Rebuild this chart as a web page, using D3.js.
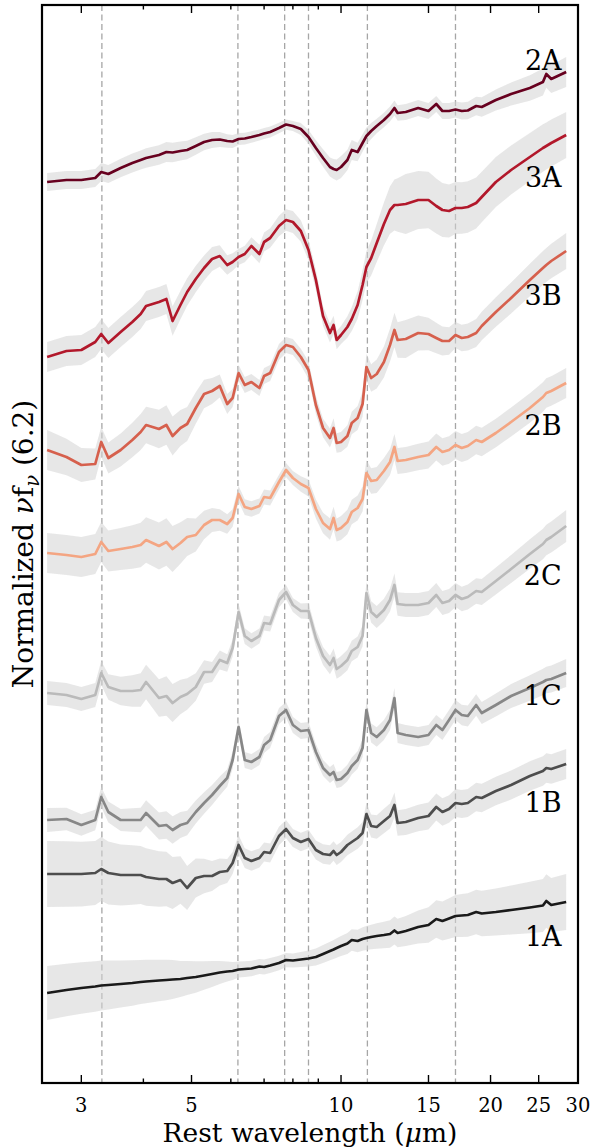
<!DOCTYPE html>
<html>
<head>
<meta charset="utf-8">
<script src="https://cdn.jsdelivr.net/npm/d3@7"></script>
<style>
  body { margin: 0; background: #fff; }
  text { font-family: "DejaVu Serif", serif; fill: #000; }
</style>
</head>
<body>
<script>
// 波长网格 (µm)，所有光谱共用
const wavelength = [2.56, 2.8, 3.0, 3.2, 3.29, 3.4, 3.6, 3.8, 3.95, 4.05,
    4.3, 4.45, 4.58, 4.75, 4.9, 5.1, 5.3, 5.5, 5.7, 5.9,
    6.05, 6.22, 6.4, 6.6, 6.85, 7.0, 7.2, 7.5, 7.75, 8.0,
    8.3, 8.6, 8.9, 9.2, 9.5, 9.66, 9.8, 10.0, 10.3, 10.51,
    10.8, 11.05, 11.25, 11.5, 11.8, 12.2, 12.55, 12.81, 13.0, 13.5,
    14.3, 15.0, 15.55, 16.0, 16.5, 17.0, 17.5, 18.0, 18.71, 19.2,
    20.5, 22, 24, 25.5, 25.9, 26.5, 28.4];

// 归一化 νfν（已加上各自的竖直偏移）
const flux_2A = [9.01, 9.03, 9.03, 9.05, 9.11, 9.09, 9.15, 9.20, 9.23, 9.25,
    9.28, 9.31, 9.305, 9.32, 9.33, 9.37, 9.41, 9.43, 9.435, 9.42,
    9.415, 9.44, 9.445, 9.46, 9.48, 9.495, 9.51, 9.55, 9.585, 9.57,
    9.54, 9.46, 9.35, 9.25, 9.16, 9.14, 9.13, 9.16, 9.23, 9.33,
    9.31, 9.40, 9.47, 9.52, 9.57, 9.63, 9.69, 9.75, 9.70, 9.71,
    9.75, 9.72, 9.79, 9.72, 9.72, 9.735, 9.72, 9.725, 9.77, 9.76,
    9.83, 9.89, 9.95, 10.01, 10.09, 10.04, 10.11];
const flux_3A = [7.26, 7.32, 7.33, 7.41, 7.49, 7.40, 7.51, 7.61, 7.69, 7.77,
    7.81, 7.84, 7.62, 7.78, 7.91, 8.04, 8.15, 8.24, 8.27, 8.18,
    8.21, 8.26, 8.29, 8.37, 8.29, 8.41, 8.45, 8.57, 8.63, 8.61,
    8.52, 8.33, 8.03, 7.67, 7.50, 7.58, 7.43, 7.48, 7.56, 7.64,
    7.78, 7.98, 8.16, 8.25, 8.40, 8.59, 8.73, 8.78, 8.78, 8.79,
    8.83, 8.83, 8.77, 8.73, 8.72, 8.75, 8.75, 8.76, 8.80, 8.86,
    9.01, 9.13, 9.26, 9.35, 9.37, 9.40, 9.48];
const flux_3B = [6.33, 6.26, 6.18, 6.19, 6.41, 6.25, 6.33, 6.43, 6.51, 6.58,
    6.54, 6.58, 6.47, 6.55, 6.59, 6.75, 6.89, 6.92, 6.97, 6.79,
    6.85, 7.10, 6.98, 7.01, 6.95, 7.07, 7.10, 7.31, 7.38, 7.36,
    7.26, 7.13, 6.78, 6.55, 6.45, 6.55, 6.40, 6.41, 6.47, 6.60,
    6.65, 6.79, 7.16, 7.05, 7.09, 7.21, 7.38, 7.53, 7.43, 7.44,
    7.50, 7.49, 7.45, 7.42, 7.42, 7.48, 7.45, 7.46, 7.50, 7.57,
    7.71, 7.85, 8.03, 8.15, 8.18, 8.22, 8.32];
const flux_2B = [5.30, 5.28, 5.26, 5.29, 5.41, 5.32, 5.34, 5.36, 5.38, 5.43,
    5.37, 5.41, 5.34, 5.40, 5.46, 5.48, 5.58, 5.63, 5.63, 5.59,
    5.65, 5.89, 5.76, 5.74, 5.77, 5.86, 5.85, 6.01, 6.13, 6.05,
    5.99, 5.95, 5.74, 5.60, 5.54, 5.65, 5.53, 5.55, 5.61, 5.71,
    5.75, 5.84, 6.10, 6.02, 6.03, 6.12, 6.21, 6.36, 6.22, 6.23,
    6.26, 6.28, 6.36, 6.31, 6.33, 6.38, 6.35, 6.37, 6.43, 6.41,
    6.50, 6.61, 6.75, 6.86, 6.90, 6.92, 7.00];
const flux_2C = [3.90, 3.88, 3.84, 3.88, 4.10, 3.96, 3.92, 3.92, 3.93, 4.01,
    3.85, 3.87, 3.80, 3.86, 3.89, 3.96, 4.11, 4.11, 4.23, 4.20,
    4.35, 4.71, 4.47, 4.42, 4.47, 4.60, 4.59, 4.83, 4.91, 4.78,
    4.72, 4.72, 4.45, 4.27, 4.18, 4.25, 4.14, 4.17, 4.23, 4.32,
    4.36, 4.47, 4.90, 4.71, 4.66, 4.73, 4.83, 4.98, 4.79, 4.78,
    4.78, 4.80, 4.88, 4.80, 4.82, 4.88, 4.84, 4.86, 4.92, 4.91,
    5.02, 5.14, 5.29, 5.39, 5.43, 5.46, 5.57];
const flux_1C = [2.63, 2.64, 2.58, 2.63, 2.86, 2.71, 2.63, 2.63, 2.63, 2.70,
    2.57, 2.58, 2.53, 2.58, 2.60, 2.71, 2.80, 2.88, 2.97, 3.05,
    3.23, 3.56, 3.23, 3.21, 3.26, 3.38, 3.43, 3.67, 3.73, 3.58,
    3.52, 3.53, 3.31, 3.15, 3.08, 3.11, 3.03, 3.04, 3.10, 3.17,
    3.23, 3.35, 3.73, 3.50, 3.46, 3.53, 3.63, 3.85, 3.50, 3.48,
    3.46, 3.48, 3.58, 3.53, 3.63, 3.73, 3.68, 3.67, 3.78, 3.70,
    3.78, 3.87, 3.95, 4.01, 4.03, 4.04, 4.10];
const flux_1B = [2.09, 2.09, 2.09, 2.10, 2.14, 2.10, 2.08, 2.08, 2.08, 2.06,
    2.04, 2.04, 2.00, 2.03, 1.95, 2.05, 2.07, 2.07, 2.11, 2.12,
    2.20, 2.38, 2.25, 2.22, 2.25, 2.31, 2.30, 2.47, 2.54, 2.45,
    2.41, 2.44, 2.33, 2.29, 2.28, 2.32, 2.28, 2.31, 2.38, 2.41,
    2.45, 2.50, 2.69, 2.57, 2.56, 2.62, 2.67, 2.78, 2.60, 2.61,
    2.65, 2.67, 2.76, 2.71, 2.74, 2.80, 2.79, 2.80, 2.86, 2.85,
    2.92, 2.98, 3.07, 3.12, 3.15, 3.14, 3.19];
const flux_1A = [0.90, 0.93, 0.95, 0.965, 0.975, 0.98, 0.99, 1.00, 1.01, 1.015,
    1.025, 1.03, 1.035, 1.04, 1.05, 1.06, 1.075, 1.09, 1.105, 1.115,
    1.12, 1.135, 1.14, 1.145, 1.165, 1.16, 1.175, 1.20, 1.23, 1.225,
    1.235, 1.245, 1.26, 1.29, 1.32, 1.335, 1.35, 1.37, 1.395, 1.43,
    1.42, 1.44, 1.45, 1.46, 1.47, 1.48, 1.49, 1.525, 1.50, 1.52,
    1.56, 1.58, 1.64, 1.62, 1.645, 1.67, 1.675, 1.68, 1.71, 1.695,
    1.71, 1.73, 1.755, 1.775, 1.82, 1.78, 1.81];

// 灰色误差带半宽，在这些波长节点处读取
const bandKnots = [2.56, 3.3, 4.5, 5.5, 6.2, 8.0, 10.0, 12.0, 13.5, 17.0, 28.4];
const band_2A = [0.09, 0.09, 0.10, 0.08, 0.06, 0.05, 0.11, 0.07, 0.08, 0.08, 0.15];
const band_3A = [0.15, 0.15, 0.15, 0.12, 0.08, 0.11, 0.09, 0.20, 0.30, 0.26, 0.23];
const band_3B = [0.20, 0.15, 0.20, 0.13, 0.08, 0.08, 0.10, 0.15, 0.19, 0.13, 0.18];
const band_2B = [0.20, 0.20, 0.24, 0.12, 0.08, 0.07, 0.12, 0.13, 0.13, 0.14, 0.15];
const band_2C = [0.12, 0.12, 0.20, 0.10, 0.08, 0.07, 0.10, 0.11, 0.12, 0.12, 0.16];
const band_1C = [0.12, 0.10, 0.14, 0.10, 0.08, 0.08, 0.08, 0.10, 0.10, 0.10, 0.14];
const band_1B = [0.33, 0.32, 0.27, 0.15, 0.10, 0.09, 0.10, 0.12, 0.13, 0.14, 0.15];
const band_1A = [0.27, 0.25, 0.20, 0.13, 0.08, 0.07, 0.10, 0.13, 0.15, 0.21, 0.28];

const names = ['2A', '3A', '3B', '2B', '2C', '1C', '1B', '1A'];
const fluxes = [flux_2A, flux_3A, flux_3B, flux_2B, flux_2C, flux_1C, flux_1B, flux_1A];
const bands = [band_2A, band_3A, band_3B, band_2B, band_2C, band_1C, band_1B, band_1A];
const colors = ['#67001f', '#b2182b', '#d6604d', '#f4a582', '#bababa', '#878787', '#4d4d4d', '#1a1a1a'];
// 标签位置（数据坐标）
const labelWave = 27.8;
const labelLevel = [10.13, 8.96, 7.78, 6.48, 4.98, 3.78, 2.71, 1.37];

// PAH 特征竖线
const featureLines = [3.3, 6.2, 7.7, 8.6, 11.3, 17.0];
const majorTicks = [3, 5, 10, 15, 20, 25, 30];
const minorTicks = [4, 6, 7, 8, 9];

const width = 594;
const height = 1147;
const margin = {left: 42, right: 16, top: 5, bottom: 64};

const x = d3.scaleLog().domain([2.5, 30]).range([margin.left, width - margin.right]);
const y = d3.scaleLinear().domain([0, 10.78]).range([height - margin.bottom, margin.top]);

const svg = d3.select('body').append('svg')
    .attr('width', width)
    .attr('height', height);

svg.append('rect').attr('width', width).attr('height', height).attr('fill', 'white');

// 竖直虚线
svg.append('g')
    .selectAll('line')
    .data(featureLines).enter()
    .append('line')
    .attr('x1', d => x(d)).attr('x2', d => x(d))
    .attr('y1', y.range()[1]).attr('y2', y.range()[0])
    .attr('stroke', '#a6a6a6')
    .attr('stroke-width', 1.3)
    .attr('stroke-dasharray', '6,3.5');

// 组装每条光谱
const spectra = names.map((name, i) => {
    const hw = d3.scaleLog().domain(bandKnots).range(bands[i]).clamp(true);
    return {
        name: name,
        color: colors[i],
        points: wavelength.map((w, j) => ({w: w, v: fluxes[i][j], hw: hw(w)}))
    };
});

const area = d3.area()
    .x(d => x(d.w))
    .y0(d => y(d.v - d.hw))
    .y1(d => y(d.v + d.hw));

const line = d3.line()
    .x(d => x(d.w))
    .y(d => y(d.v));

// 误差带
svg.append('g')
    .selectAll('path')
    .data(spectra).enter()
    .append('path')
    .attr('d', d => area(d.points))
    .attr('fill', '#d3d3d3')
    .attr('fill-opacity', 0.55);

// 光谱曲线
svg.append('g')
    .selectAll('path')
    .data(spectra).enter()
    .append('path')
    .attr('d', d => line(d.points))
    .attr('fill', 'none')
    .attr('stroke', d => d.color)
    .attr('stroke-width', 2.7)
    .attr('stroke-linejoin', 'round');

// 光谱标签
svg.append('g')
    .selectAll('text')
    .data(spectra).enter()
    .append('text')
    .attr('x', x(labelWave))
    .attr('y', (d, i) => y(labelLevel[i]))
    .attr('text-anchor', 'end')
    .attr('font-size', 27)
    .text(d => d.name);

// 坐标框
const [x0, x1] = x.range();
const [yb, yt] = y.range();
svg.append('rect')
    .attr('x', x0).attr('y', yt)
    .attr('width', x1 - x0).attr('height', yb - yt)
    .attr('fill', 'none')
    .attr('stroke', 'black')
    .attr('stroke-width', 2.2);

// 刻度（向内，上下都有）
const tickG = svg.append('g').attr('stroke', 'black').attr('stroke-width', 1.4);
[[majorTicks, 8], [minorTicks, 4.5]].forEach(([ticks, len]) => {
    tickG.selectAll(null).data(ticks).enter().append('line')
        .attr('x1', d => x(d)).attr('x2', d => x(d))
        .attr('y1', yb).attr('y2', yb - len);
    tickG.selectAll(null).data(ticks).enter().append('line')
        .attr('x1', d => x(d)).attr('x2', d => x(d))
        .attr('y1', yt).attr('y2', yt + len);
});

svg.append('g')
    .selectAll('text')
    .data(majorTicks).enter()
    .append('text')
    .attr('x', d => x(d))
    .attr('y', yb + 29)
    .attr('text-anchor', 'middle')
    .attr('font-size', 19.5)
    .text(d => d);

// 轴标题
const xl = svg.append('text')
    .attr('x', (x0 + x1) / 2)
    .attr('y', height - 5)
    .attr('text-anchor', 'middle')
    .attr('font-size', 26.5);
xl.append('tspan').text('Rest wavelength (');
xl.append('tspan').attr('font-style', 'italic').text('μ');
xl.append('tspan').text('m)');

const yl = svg.append('text')
    .attr('transform', `translate(33,${(yb + yt) / 2}) rotate(-90)`)
    .attr('text-anchor', 'middle')
    .attr('font-size', 28);
yl.append('tspan').text('Normalized ');
yl.append('tspan').attr('font-style', 'italic').text('ν');
yl.append('tspan').text('f');
yl.append('tspan').attr('font-style', 'italic').attr('font-size', 19.5).attr('dy', 6).text('ν');
yl.append('tspan').attr('dy', -6).text(' (6.2)');
</script>
</body>
</html>
